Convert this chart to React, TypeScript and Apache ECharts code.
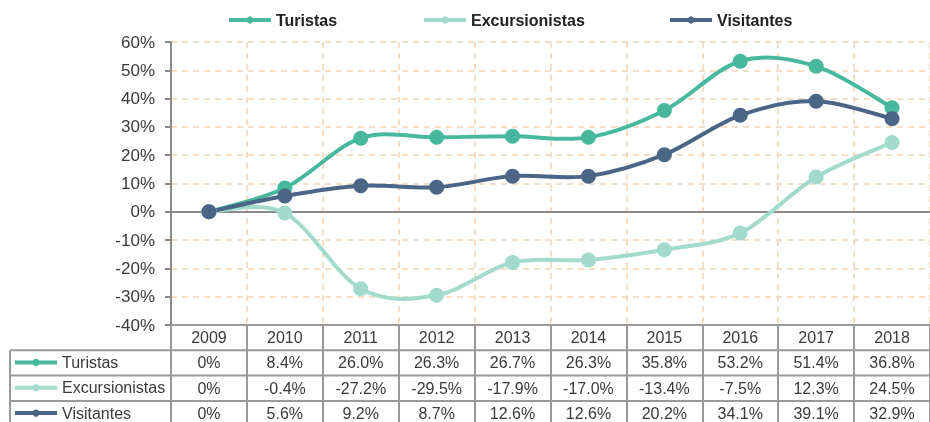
import React, { useEffect, useRef } from 'react';
import * as echarts from 'echarts';

const years = ['2009', '2010', '2011', '2012', '2013', '2014', '2015', '2016', '2017', '2018'];
const turistas = [0, 8.4, 26.0, 26.3, 26.7, 26.3, 35.8, 53.2, 51.4, 36.8];
const excursionistas = [0, -0.4, -27.2, -29.5, -17.9, -17.0, -13.4, -7.5, 12.3, 24.5];
const visitantes = [0, 5.6, 9.2, 8.7, 12.6, 12.6, 20.2, 34.1, 39.1, 32.9];
const seriesNames = ['Turistas', 'Excursionistas', 'Visitantes'];
const seriesValues = [turistas, excursionistas, visitantes];
const colors = ['#47b89e', '#a2dbcb', '#4a6585'];
const yMin = -40;
const yMax = 60;
const yInterval = 10;

const fmt = (v: number) => (v === 0 ? '0%' : v.toFixed(1) + '%');

const W = 930;
const H = 422;
const GRID_LEFT = 171;
const GRID_TOP = 42;
const GRID_BOTTOM_Y = 325;
const ROW_H = 25.3;
const TABLE_LEFT = 10;
const FONT = '"Liberation Sans", Arial, sans-serif';
const TEXT = '#3a3a3a';
const BORDER = '#9a9a9a';
const LINE_W = 4;

export default function App() {
  const ref = useRef<HTMLDivElement>(null);
  useEffect(() => {
    if (!ref.current) return;
    const chart = echarts.init(ref.current, undefined, { renderer: 'svg' });

    const rowTop = GRID_BOTTOM_Y + ROW_H; // first data row top
    const graphics: any[] = [];
    for (let i = 0; i < 3; i++) {
      const y = rowTop + i * ROW_H;
      graphics.push({
        type: 'line', silent: true,
        shape: { x1: TABLE_LEFT, y1: y, x2: W, y2: y },
        style: { stroke: BORDER, lineWidth: 2 },
      });
    }
    graphics.push({
      type: 'line', silent: true,
      shape: { x1: TABLE_LEFT, y1: rowTop, x2: TABLE_LEFT, y2: H },
      style: { stroke: BORDER, lineWidth: 2 },
    });

    const topLegendLefts = [227, 422, 668];
    const legends: any[] = seriesNames.map((n, i) => ({
      data: [n],
      left: topLegendLefts[i],
      top: 12,
      padding: 0,
      itemWidth: 42,
      itemHeight: 9,
      selectedMode: false,
      lineStyle: { width: LINE_W, opacity: 1 },
      textStyle: { fontFamily: FONT, fontWeight: 'bold', fontSize: 16, color: '#222' },
    }));
    seriesNames.forEach((n, i) => {
      legends.push({
        data: [n],
        left: 13,
        top: rowTop + i * ROW_H + ROW_H / 2 - 8.5,
        padding: 0,
        itemWidth: 42,
        itemHeight: 9,
        selectedMode: false,
        lineStyle: { width: LINE_W, opacity: 1 },
        textStyle: { fontFamily: FONT, fontSize: 16, color: TEXT },
      });
    });

    const tableAxes = seriesValues.map((vals, i) => ({
      type: 'category',
      gridIndex: 0,
      position: 'bottom',
      data: years,
      axisLine: { show: false, onZero: false },
      axisTick: { show: false },
      splitLine: { show: false },
      axisLabel: {
        interval: 0,
        margin: ROW_H * (i + 1) + ROW_H / 2,
        verticalAlign: 'middle',
        fontFamily: FONT,
        fontSize: 16,
        color: TEXT,
        formatter: (_v: string, idx: number) => fmt(vals[idx]),
      },
    }));

    // Excel-style (Catmull-Rom) smoothed curves, one segment per data item
    const curveSeries = seriesValues.map((vals, s) => ({
      name: seriesNames[s] + '-curve',
      type: 'custom',
      xAxisIndex: 0,
      yAxisIndex: 0,
      silent: true,
      z: 2,
      data: vals.slice(0, -1).map((v, i) => [i, v]),
      renderItem: (_params: any, api: any) => {
        const i = api.value(0);
        const n = vals.length;
        const p = (k: number) => api.coord([Math.max(0, Math.min(n - 1, k)), vals[Math.max(0, Math.min(n - 1, k))]]);
        const p0 = p(i - 1), p1 = p(i), p2 = p(i + 1), p3 = p(i + 2);
        const t = 1 / 6;
        return {
          type: 'bezierCurve',
          shape: {
            x1: p1[0], y1: p1[1], x2: p2[0], y2: p2[1],
            cpx1: p1[0] + (p2[0] - p0[0]) * t,
            cpy1: p1[1] + (p2[1] - p0[1]) * t,
            cpx2: p2[0] - (p3[0] - p1[0]) * t,
            cpy2: p2[1] - (p3[1] - p1[1]) * t,
          },
          style: { stroke: colors[s], lineWidth: LINE_W, fill: 'none', lineCap: 'round' },
        };
      },
    }));

    const markerSeries = seriesNames.map((n, i) => ({
      name: n,
      type: 'line',
      xAxisIndex: 0,
      data: seriesValues[i],
      symbol: 'circle',
      symbolSize: 15,
      showSymbol: true,
      lineStyle: { color: colors[i], width: 0 },
      itemStyle: { color: colors[i] },
      z: 3,
    }));

    chart.setOption({
      animation: false,
      grid: { left: GRID_LEFT, top: GRID_TOP, right: -8, bottom: H - GRID_BOTTOM_Y, containLabel: false },
      legend: legends,
      xAxis: [
        {
          type: 'category',
          position: 'bottom',
          data: years,
          axisLine: { show: true, onZero: false, lineStyle: { color: BORDER, width: 2 } },
          axisTick: { show: true, length: H - GRID_BOTTOM_Y, lineStyle: { color: BORDER, width: 2 } },
          splitLine: { show: true, lineStyle: { color: '#f2d4b6', width: 1.5, type: [6, 5] } },
          axisLabel: {
            interval: 0,
            margin: ROW_H / 2,
            verticalAlign: 'middle',
            fontFamily: FONT,
            fontSize: 16,
            color: TEXT,
          },
        },
        {
          type: 'category',
          position: 'bottom',
          data: years,
          axisLine: { show: true, onZero: true, lineStyle: { color: '#8a8a8a', width: 2 } },
          axisTick: { show: false },
          axisLabel: { show: false },
          splitLine: { show: false },
        },
        ...tableAxes,
      ],
      yAxis: {
        type: 'value',
        min: yMin,
        max: yMax,
        interval: yInterval,
        axisLine: { show: true, lineStyle: { color: '#8a8a8a', width: 2 } },
        axisTick: { show: true, length: 6, lineStyle: { color: '#8a8a8a', width: 2 } },
        splitLine: { show: true, lineStyle: { color: '#f2d4b6', width: 1.5, type: [6, 5] } },
        axisLabel: {
          margin: 16,
          fontFamily: FONT,
          fontSize: 17,
          color: TEXT,
          formatter: (v: number) => v + '%',
        },
      },
      series: [...curveSeries, ...markerSeries],
      graphic: graphics,
    });
    return () => chart.dispose();
  }, []);
  return <div ref={ref} style={{ position: 'fixed', left: 0, top: 0, width: W, height: H }} />;
}
